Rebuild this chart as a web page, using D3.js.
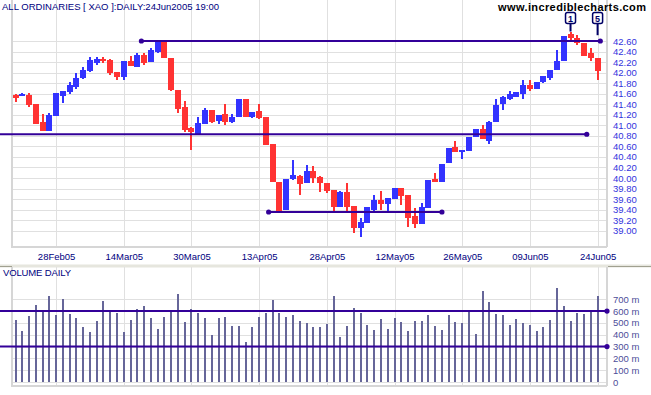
<!DOCTYPE html>
<html>
<head>
<meta charset="utf-8">
<script src="https://cdn.jsdelivr.net/npm/d3@7"></script>
<style>
body { margin: 0; background: #fff; }
svg { display: block; }
text { font-family: "Liberation Sans", Arial, sans-serif; }
</style>
</head>
<body>
<svg id="chart" width="651" height="395"></svg>
<script>
// trading days, 18 Feb 2005 - 24 Jun 2005
var dates = [
  "2005-02-18","2005-02-21","2005-02-22","2005-02-23","2005-02-24","2005-02-25",
  "2005-02-28","2005-03-01","2005-03-02","2005-03-03","2005-03-04","2005-03-07","2005-03-08","2005-03-09","2005-03-10","2005-03-11",
  "2005-03-14","2005-03-15","2005-03-16","2005-03-17","2005-03-18","2005-03-21","2005-03-22","2005-03-23","2005-03-24","2005-03-29",
  "2005-03-30","2005-03-31","2005-04-01","2005-04-04","2005-04-05","2005-04-06","2005-04-07","2005-04-08","2005-04-11","2005-04-12",
  "2005-04-13","2005-04-14","2005-04-15","2005-04-18","2005-04-19","2005-04-20","2005-04-21","2005-04-22","2005-04-26","2005-04-27",
  "2005-04-28","2005-04-29","2005-05-02","2005-05-03","2005-05-04","2005-05-05","2005-05-06","2005-05-09","2005-05-10","2005-05-11",
  "2005-05-12","2005-05-13","2005-05-16","2005-05-17","2005-05-18","2005-05-19","2005-05-20","2005-05-23","2005-05-24","2005-05-25",
  "2005-05-26","2005-05-27","2005-05-30","2005-05-31","2005-06-01","2005-06-02","2005-06-03","2005-06-06","2005-06-07","2005-06-08",
  "2005-06-09","2005-06-10","2005-06-14","2005-06-15","2005-06-16","2005-06-17","2005-06-20","2005-06-21","2005-06-22","2005-06-23",
  "2005-06-24"
];

var open = [
  41.58,41.55,41.58,41.40,41.06,40.90,41.18,41.56,41.63,41.73,41.90,42.03,42.18,42.26,42.24,42.01,
  41.92,42.22,42.11,42.33,42.20,42.39,42.58,42.28,41.67,41.35,40.95,40.84,41.03,41.29,41.08,41.21,
  41.06,41.16,41.50,41.16,41.27,41.16,40.65,39.92,39.39,39.98,40.04,39.91,40.13,40.02,39.91,39.77,
  39.45,39.74,39.47,39.05,39.15,39.39,39.58,39.51,39.60,39.81,39.68,39.28,39.13,39.43,39.98,39.92,
  40.29,40.59,40.49,40.51,40.78,40.93,40.70,41.06,41.41,41.49,41.54,41.60,41.77,41.69,41.82,41.90,
  42.05,42.22,42.73,42.66,42.56,42.37,42.28
];
var high = [
  41.59,41.61,41.61,41.41,41.21,41.23,41.62,41.66,41.82,41.99,42.11,42.30,42.29,42.30,42.25,42.01,
  42.22,42.32,42.37,42.37,42.47,42.59,42.59,42.28,41.67,41.46,40.97,41.16,41.32,41.29,41.20,41.40,
  41.21,41.50,41.50,41.25,41.40,41.16,40.65,39.92,39.98,40.34,40.06,40.25,40.23,40.04,39.91,39.77,
  39.76,39.91,39.47,39.24,39.45,39.68,39.76,39.62,39.81,39.81,39.68,39.43,39.53,39.96,40.09,40.27,
  40.57,40.70,40.53,40.78,40.93,41.01,41.08,41.50,41.55,41.66,41.63,41.86,41.86,41.82,41.93,42.05,
  42.43,42.69,42.77,42.71,42.56,42.47,42.28
];
var low = [
  41.44,41.55,41.35,41.02,40.90,40.90,41.18,41.43,41.60,41.68,41.88,42.02,42.15,42.18,41.96,41.86,
  41.86,42.12,42.10,42.14,42.20,42.38,42.27,41.66,41.24,40.87,40.53,40.84,41.03,41.04,41.03,41.01,
  41.04,41.16,41.15,41.14,41.12,40.63,39.92,39.37,39.39,39.96,39.68,39.91,39.91,39.73,39.72,39.34,
  39.45,39.36,38.96,38.88,39.15,39.36,39.39,39.36,39.60,39.49,39.07,39.05,39.13,39.43,39.92,39.92,
  40.29,40.49,40.36,40.51,40.78,40.74,40.65,41.06,41.29,41.48,41.54,41.50,41.65,41.69,41.80,41.86,
  42.05,42.22,42.60,42.52,42.32,42.22,41.86
];
var close = [
  41.52,41.59,41.39,41.03,40.90,41.20,41.61,41.65,41.77,41.90,42.05,42.24,42.26,42.22,41.99,41.92,
  42.22,42.13,42.33,42.18,42.43,42.58,42.28,41.67,41.31,40.91,40.87,41.04,41.29,41.06,41.20,41.06,
  41.16,41.50,41.16,41.25,41.14,40.63,39.92,39.37,39.98,40.06,39.89,40.13,40.00,39.91,39.75,39.45,
  39.74,39.45,39.05,39.17,39.45,39.58,39.51,39.62,39.81,39.66,39.24,39.13,39.45,39.96,39.92,40.27,
  40.57,40.49,40.53,40.78,40.93,40.74,41.06,41.38,41.53,41.60,41.63,41.77,41.69,41.82,41.93,42.05,
  42.22,42.69,42.66,42.56,42.32,42.28,42.03
];
// millions of shares
var volume = [
  525,432,559,652,610,728,567,703,576,542,466,423,516,686,604,584,
  423,525,618,643,542,449,550,593,745,508,618,584,542,398,542,550,
  474,474,339,466,550,584,694,584,550,567,516,500,466,466,491,728,
  381,474,627,584,483,440,533,449,542,508,432,516,516,567,474,440,
  567,508,500,593,406,770,677,576,567,483,533,500,483,432,466,525,
  796,643,516,584,576,610,728
];

var tickDates = ["2005-02-28","2005-03-14","2005-03-30","2005-04-13","2005-04-28","2005-05-12","2005-05-26","2005-06-09","2005-06-24"];
var priceTicks = [39.0,39.2,39.4,39.6,39.8,40.0,40.2,40.4,40.6,40.8,41.0,41.2,41.4,41.6,41.8,42.0,42.2,42.4,42.6];
var volumeTicks = [0,100,200,300,400,500,600,700];

// drawn trend lines: bar positions (null = chart edge) and level
var priceLines = [
  {from: 18.6, to: 86.4, value: 42.60},
  {from: null, to: 84.4, value: 40.83},
  {from: 37.4, to: 63.0, value: 39.355}
];
var volumeLines = [600, 300];
var markers = [
  {bar: 82, label: "1", value: 42.78},
  {bar: 86, label: "5", value: 42.71}
];

var svg = d3.select("#chart"),
    left = 12, right = 607,
    pTop = 0, pBottom = 247,
    vTop = 267, vBottom = 386;

var x = d3.scalePoint().domain(dates).range([15.5, 597.6]);
function xi(i) { return x(dates[0]) + i * x.step(); }

var yP = d3.scaleLinear().domain([39, 42.6]).range([230.7, 41]);
var yV = d3.scaleLinear().domain([0, 700]).range([382, 299.3]);

var parse = d3.timeParse("%Y-%m-%d"), fmt = d3.timeFormat("%d%b%y");

// separator between panels
svg.append("rect").attr("x", 0).attr("y", 264.5).attr("width", 651).attr("height", 3).attr("fill", "#e6e6de");
svg.append("line").attr("x1", 0).attr("x2", left).attr("y1", 266.5).attr("y2", 266.5).attr("stroke", "#a0a090");
svg.append("line").attr("x1", right + 1).attr("x2", 651).attr("y1", 266.5).attr("y2", 266.5).attr("stroke", "#a0a090");

// price grid + axes
var gx = svg.append("g")
    .attr("transform", "translate(0," + pBottom + ")")
    .call(d3.axisBottom(x).tickValues(tickDates).tickSize(-(pBottom - pTop)).tickPadding(6)
      .tickFormat(function(d) { return fmt(parse(d)); }));
gx.select(".domain").remove();
gx.selectAll("line").attr("stroke", "#e0e0e0").attr("shape-rendering", "crispEdges");
gx.selectAll("text").attr("fill", "#000080").attr("font-size", 9.5).attr("font-family", "Liberation Sans, Arial, sans-serif");

var gy = svg.append("g")
    .attr("transform", "translate(" + right + ",0)")
    .call(d3.axisRight(yP).tickValues(priceTicks).tickSize(-(right - left)).tickPadding(6).tickFormat(d3.format(".2f")));
gy.select(".domain").remove();
gy.selectAll("line").attr("stroke", "#e0e0e0").attr("shape-rendering", "crispEdges");
gy.selectAll("text").attr("fill", "#3333dd").attr("font-size", 9.5).attr("font-family", "Liberation Sans, Arial, sans-serif");

// volume grid + axes
var gvx = svg.append("g")
    .attr("transform", "translate(0," + vBottom + ")")
    .call(d3.axisBottom(x).tickValues(tickDates).tickSize(-(vBottom - vTop)).tickFormat(""));
gvx.select(".domain").remove();
gvx.selectAll("line").attr("stroke", "#e0e0e0").attr("shape-rendering", "crispEdges");

var gvy = svg.append("g")
    .attr("transform", "translate(" + right + ",0)")
    .call(d3.axisRight(yV).tickValues(volumeTicks).tickSize(-(right - left)).tickPadding(6)
      .tickFormat(function(d) { return d === 0 ? "0" : d + " m"; }));
gvy.select(".domain").remove();
gvy.selectAll("line").attr("stroke", "#e0e0e0").attr("shape-rendering", "crispEdges");
gvy.selectAll("text").attr("fill", "#4d4d99").attr("font-size", 9.5).attr("font-family", "Liberation Sans, Arial, sans-serif");

// panel borders
var border = svg.append("g").attr("stroke", "#d6d6d6").attr("stroke-width", 2).attr("shape-rendering", "crispEdges");
border.append("line").attr("x1", left).attr("x2", left).attr("y1", pTop).attr("y2", pBottom + 1);
border.append("line").attr("x1", left).attr("x2", right).attr("y1", pBottom).attr("y2", pBottom);
border.append("line").attr("x1", right).attr("x2", right).attr("y1", pTop).attr("y2", pBottom);
border.append("line").attr("x1", left).attr("x2", left).attr("y1", vTop).attr("y2", vBottom + 1);
border.append("line").attr("x1", left).attr("x2", right).attr("y1", vBottom).attr("y2", vBottom);
border.append("line").attr("x1", right).attr("x2", right).attr("y1", vTop).attr("y2", vBottom);

// candles
var bars = d3.range(dates.length);
var candle = svg.append("g").attr("shape-rendering", "crispEdges")
  .selectAll("g").data(bars).enter().append("g")
    .attr("fill", function(i) { return close[i] >= open[i] ? "#3333ff" : "#ff3333"; });

candle.append("rect")
    .attr("x", function(i) { return Math.round(x(dates[i]) - 1); })
    .attr("width", 2)
    .attr("y", function(i) { return yP(high[i]); })
    .attr("height", function(i) { return Math.max(1, yP(low[i]) - yP(high[i])); });

candle.append("rect")
    .attr("x", function(i) { return Math.round(x(dates[i]) - 3); })
    .attr("width", 6)
    .attr("y", function(i) { return yP(Math.max(open[i], close[i])); })
    .attr("height", function(i) { return Math.max(2, Math.abs(yP(open[i]) - yP(close[i]))); });

// volume bars
svg.append("g").attr("fill", "#666699").attr("shape-rendering", "crispEdges")
  .selectAll("rect").data(bars).enter().append("rect")
    .attr("x", function(i) { return Math.round(x(dates[i]) - 1); })
    .attr("width", 2)
    .attr("y", function(i) { return yV(volume[i]); })
    .attr("height", function(i) { return yV(0) - yV(volume[i]); });

// trend lines
var lineColor = "#330099";
var tl = svg.append("g");
priceLines.forEach(function(d) {
  var x1 = d.from === null ? 0 : xi(d.from), x2 = xi(d.to), y = yP(d.value);
  tl.append("line").attr("x1", x1).attr("x2", x2).attr("y1", y).attr("y2", y)
    .attr("stroke", lineColor).attr("stroke-width", 2);
  if (d.from !== null) tl.append("circle").attr("cx", x1).attr("cy", y).attr("r", 2.6).attr("fill", lineColor);
  tl.append("circle").attr("cx", x2).attr("cy", y).attr("r", 2.6).attr("fill", lineColor);
});
volumeLines.forEach(function(v) {
  var y = yV(v);
  tl.append("line").attr("x1", 0).attr("x2", right).attr("y1", y).attr("y2", y)
    .attr("stroke", lineColor).attr("stroke-width", 2);
  tl.append("circle").attr("cx", right).attr("cy", y).attr("r", 2.6).attr("fill", lineColor);
});

// wave markers
var mk = svg.append("g").selectAll("g").data(markers).enter().append("g");
mk.append("line")
    .attr("x1", function(d) { return xi(d.bar); }).attr("x2", function(d) { return xi(d.bar); })
    .attr("y1", 23).attr("y2", function(d) { return yP(d.value); })
    .attr("stroke", "#000066").attr("stroke-width", 2);
mk.append("rect")
    .attr("x", function(d) { return xi(d.bar) - 5; }).attr("y", 12.5)
    .attr("width", 10).attr("height", 11).attr("rx", 2)
    .attr("fill", "#fff").attr("stroke", "#000066").attr("stroke-width", 1.5);
mk.append("text")
    .attr("x", function(d) { return xi(d.bar); }).attr("y", 21.5)
    .attr("text-anchor", "middle").attr("font-size", 9).attr("font-weight", "bold")
    .attr("fill", "#000066").text(function(d) { return d.label; });

// titles
svg.append("text").attr("x", 2).attr("y", 9.5)
    .attr("font-size", 9.5).attr("fill", "#000080")
    .attr("textLength", 217).attr("lengthAdjust", "spacing")
    .text("ALL ORDINARIES [ XAO ]:DAILY:24Jun2005 19:00");
svg.append("text").attr("x", 498).attr("y", 11)
    .attr("font-size", 11).attr("font-weight", "bold").attr("fill", "#000")
    .attr("textLength", 148).attr("lengthAdjust", "spacing")
    .text("www.incrediblecharts.com");
svg.append("text").attr("x", 3).attr("y", 276)
    .attr("font-size", 9.5).attr("fill", "#000080")
    .attr("textLength", 68).attr("lengthAdjust", "spacing")
    .text("VOLUME DAILY");
</script>
</body>
</html>
